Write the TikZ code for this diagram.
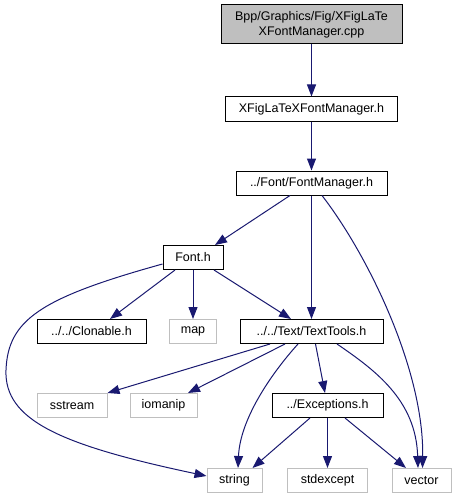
\documentclass[tikz,border=0pt]{standalone}
\usepackage{fontspec}
\setmainfont{Liberation Sans}
\usetikzlibrary{arrows.meta}
\definecolor{edgecol}{HTML}{191970}
\definecolor{lgray}{HTML}{BFBFBF}
\begin{document}
\begin{tikzpicture}[x=1pt,y=-1pt,
  box/.style={draw=black,line width=1pt,inner sep=0pt,minimum height=24pt,font=\fontsize{12.5}{15}\selectfont},
  sys/.style={box,draw=lgray},
  e/.style={draw=edgecol,line width=1pt,-{Triangle[length=12pt,width=9pt]}}]
\useasboundingbox (0,0) rectangle (456,500);
\node[box,fill=lgray,minimum width=181pt,minimum height=39pt,align=center] (cpp) at (311.5,24.5) {Bpp/Graphics/Fig/XFigLaTe\\XFontManager.cpp};
\node[box,minimum width=172pt] (xh) at (311.5,109) {XFigLaTeXFontManager.h};
\node[box,minimum width=151pt] (fm) at (311.5,183) {../Font/FontManager.h};
\node[box,minimum width=60pt] (font) at (193,257.5) {Font.h};
\node[box,minimum width=109pt] (clon) at (91.5,331.5) {../../Clonable.h};
\node[sys,minimum width=47pt] (map) at (193,331.5) {map};
\node[box,minimum width=143pt] (tt) at (311.5,331.5) {../../Text/TextTools.h};
\node[sys,minimum width=70pt] (sstream) at (72,405.5) {sstream};
\node[sys,minimum width=67pt] (iomanip) at (163.5,405.5) {iomanip};
\node[box,minimum width=111pt] (exc) at (327.5,405.5) {../Exceptions.h};
\node[sys,minimum width=55pt] (string) at (234.5,480.5) {string};
\node[sys,minimum width=80pt] (stdexcept) at (327.5,480.5) {stdexcept};
\node[sys,minimum width=59pt] (vector) at (421.5,480.5) {vector};
\draw[e] (cpp) -- (xh);
\draw[e] (xh) -- (fm);
\draw[e] ([xshift=-21.5pt]fm.south) -- ([xshift=22pt]font.north);
\draw[e] (fm) -- (tt);
\draw[e] ([xshift=10.5pt]fm.south) .. controls (368,255) and (424,370) .. ([xshift=1pt]vector.north);
\draw[e] ([yshift=-6.5pt]font.west) .. controls (40,298) and (8,320) .. (6,370) .. controls (4,420) and (60,445) .. ([yshift=4.5pt]string.west);
\draw[e] ([xshift=-18pt]font.south) -- ([xshift=18.5pt]clon.north);
\draw[e] (font) -- (map);
\draw[e] ([xshift=21pt]font.south) -- ([xshift=-20.5pt]tt.north);
\draw[e] ([xshift=-41.5pt]tt.south) -- (sstream.north east);
\draw[e] ([xshift=-26.5pt]tt.south) -- ([xshift=24.5pt]iomanip.north);
\draw[e] ([xshift=-13.5pt]tt.south) .. controls (270,375) and (240,420) .. ([xshift=3.5pt]string.north);
\draw[e] ([xshift=4pt]tt.south) -- ([xshift=-2.5pt]exc.north);
\draw[e] ([xshift=25.5pt]tt.south) .. controls (375,370) and (416,400) .. ([xshift=-3.5pt]vector.north);
\draw[e] ([xshift=-17.5pt]exc.south) -- ([xshift=18pt]string.north);
\draw[e] (exc) -- (stdexcept);
\draw[e] ([xshift=17.5pt]exc.south) -- ([xshift=-15.5pt]vector.north);
\end{tikzpicture}
\end{document}
